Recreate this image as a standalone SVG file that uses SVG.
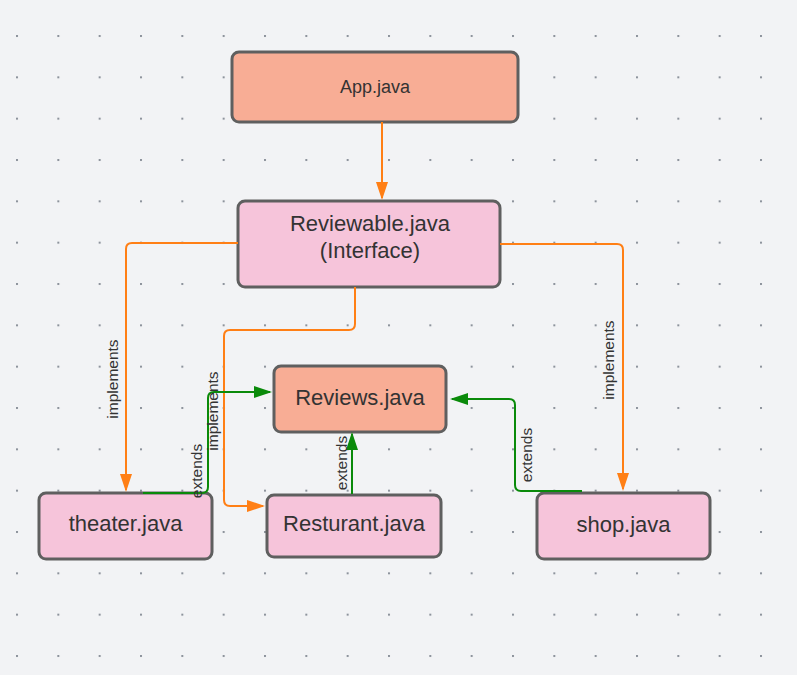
<svg xmlns="http://www.w3.org/2000/svg" width="797" height="675" viewBox="0 0 797 675">
<style>
.node{stroke:#5f5f5f;stroke-width:3}
.salmon{fill:#f8ad95}
.pink{fill:#f6c4da}
.t{font-family:"Liberation Sans",Arial,sans-serif;font-size:22px;fill:#333;text-anchor:middle}
.app{font-family:"Liberation Sans",Arial,sans-serif;font-size:18px;fill:#333;text-anchor:middle}
.lbl{font-family:"Liberation Sans",Arial,sans-serif;font-size:15.5px;fill:#333;text-anchor:middle}
.o{fill:none;stroke:#ff7f15;stroke-width:2}
.g{fill:none;stroke:#0a8a0a;stroke-width:2}
</style>
<defs>
<pattern id="dots" patternUnits="userSpaceOnUse" x="16" y="35" width="41.333" height="41.333">
<rect x="0" y="0" width="2" height="2" fill="#8d939c"/>
</pattern>
<marker id="ao" markerUnits="userSpaceOnUse" markerWidth="18" markerHeight="12" refX="16" refY="6" orient="auto">
<path d="M0,0 L18,6 L0,12 z" fill="#ff7f15"/>
</marker>
<marker id="ag" markerUnits="userSpaceOnUse" markerWidth="18" markerHeight="12" refX="16" refY="6" orient="auto">
<path d="M0,0 L18,6 L0,12 z" fill="#0a8a0a"/>
</marker>
</defs>
<rect width="797" height="675" fill="#f2f3f5"/>
<rect width="797" height="675" fill="url(#dots)"/>
<g id="app">
<rect class="node salmon" x="232" y="52" width="286" height="70" rx="7"/>
<text class="app" x="375" y="93">App.java</text>
</g>
<g id="reviewable">
<rect class="node pink" x="238" y="201" width="262" height="86" rx="7"/>
<text class="t" x="370" y="231">Reviewable.java</text>
<text class="t" x="370" y="258">(Interface)</text>
</g>
<g id="reviews">
<rect class="node salmon" x="274" y="366" width="172" height="66" rx="7"/>
<text class="t" x="360" y="405">Reviews.java</text>
</g>
<g id="theater">
<rect class="node pink" x="39" y="493" width="173" height="66" rx="7"/>
<text class="t" x="125.5" y="531">theater.java</text>
</g>
<g id="resturant">
<rect class="node pink" x="267" y="495" width="174" height="62" rx="7"/>
<text class="t" x="354" y="531">Resturant.java</text>
</g>
<g id="shop">
<rect class="node pink" x="537" y="493" width="173" height="66" rx="7"/>
<text class="t" x="623.5" y="532">shop.java</text>
</g>
<g id="connectors">
<path class="o" d="M382,122 L382,198" marker-end="url(#ao)"/>
<path class="o" d="M238,243 L132,243 Q126,243 126,249 L126,490" marker-end="url(#ao)"/>
<path class="o" d="M355,287 L355,324 Q355,330 349,330 L230,330 Q224,330 224,336 L224,500 Q224,506 230,506 L263,506" marker-end="url(#ao)"/>
<path class="o" d="M500,244 L617,244 Q623,244 623,250 L623,489" marker-end="url(#ao)"/>
<path class="g" d="M143,493 L202,493 Q208,493 208,487 L208,398 Q208,392 214,392 L270,392" marker-end="url(#ag)"/>
<path class="g" d="M352,494 L352,434" marker-end="url(#ag)"/>
<path class="g" d="M582,491 L521,491 Q515,491 515,485 L515,405 Q515,399 509,399 L452,399" marker-end="url(#ag)"/>
<text class="lbl" transform="translate(118,379) rotate(-90)">implements</text>
<text class="lbl" transform="translate(218,411) rotate(-90)">implements</text>
<text class="lbl" transform="translate(614,360) rotate(-90)">implements</text>
<text class="lbl" transform="translate(201.5,471) rotate(-90)">extends</text>
<text class="lbl" transform="translate(347,463) rotate(-90)">extends</text>
<text class="lbl" transform="translate(531.5,455) rotate(-90)">extends</text>
</g>
</svg>
